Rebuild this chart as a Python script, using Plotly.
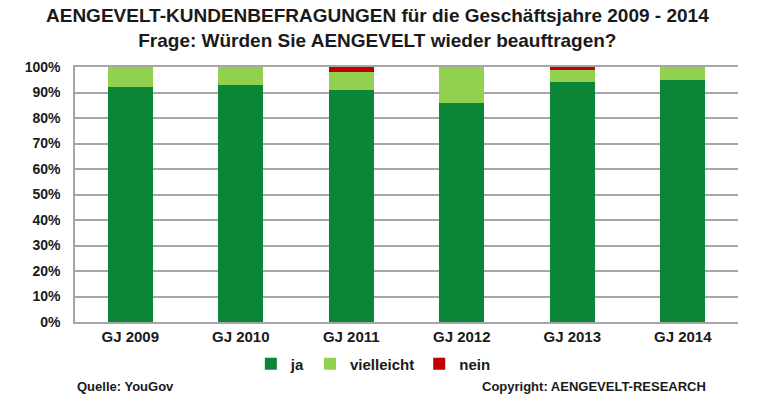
import plotly.graph_objects as go

jahre = ["GJ 2009", "GJ 2010", "GJ 2011", "GJ 2012", "GJ 2013", "GJ 2014"]
ja = [92, 93, 91, 86, 94, 95]
vielleicht = [8, 7, 7, 14, 5, 5]
nein = [0, 0, 2, 0, 1, 0]

farben = {"ja": "#0b8636", "vielleicht": "#92d050", "nein": "#c00000"}
fett = dict(family="Liberation Sans, Arial", color="#1a1a1a", weight="bold")

fig = go.Figure()
for name, werte in [("ja", ja), ("vielleicht", vielleicht), ("nein", nein)]:
    fig.add_trace(go.Bar(
        x=jahre, y=werte, name=name, width=0.41,
        marker=dict(color=farben[name], line=dict(width=0)),
    ))

fig.update_layout(
    barmode="stack",
    width=762, height=400,
    margin=dict(l=75, r=24, t=67, b=78),
    paper_bgcolor="white", plot_bgcolor="white",
    legend=dict(
        orientation="h", x=0.45, xanchor="center", y=-0.165, yanchor="middle",
        font=dict(size=15, **fett), itemwidth=30, traceorder="normal",
    ),
    showlegend=True,
)
fig.update_yaxes(
    range=[0, 100], dtick=10, ticksuffix="%",
    showgrid=True, gridcolor="#a6a6a6", gridwidth=1.5,
    showline=True, linecolor="#a6a6a6", linewidth=1.5,
    ticks="", tickfont=dict(size=14, **fett), ticklabelstandoff=10,
)
fig.update_xaxes(
    showline=True, linecolor="#a6a6a6", linewidth=1.5, mirror=True,
    tickfont=dict(size=15, **fett), ticks="",
)

# Titel als Annotation, damit nichts oben abgeschnitten wird
fig.add_annotation(
    text="AENGEVELT-KUNDENBEFRAGUNGEN für die Geschäftsjahre 2009 - 2014<br>"
         "Frage: Würden Sie AENGEVELT wieder beauftragen?",
    x=0.457, y=1.25, xref="paper", yref="paper", xanchor="center", yanchor="top",
    showarrow=False, font=dict(size=19, **fett),
)
fig.add_annotation(text="Quelle: YouGov", x=0.0, y=-0.251, xref="paper", yref="paper",
                   xanchor="left", yanchor="middle", showarrow=False, font=dict(size=13, **fett))
fig.add_annotation(text="Copyright: AENGEVELT-RESEARCH", x=0.955, y=-0.251, xref="paper", yref="paper",
                   xanchor="right", yanchor="middle", showarrow=False, font=dict(size=13, **fett))

fig.write_html("out.html", config={"displayModeBar": False},
               post_script="document.body.style.margin='0';")
